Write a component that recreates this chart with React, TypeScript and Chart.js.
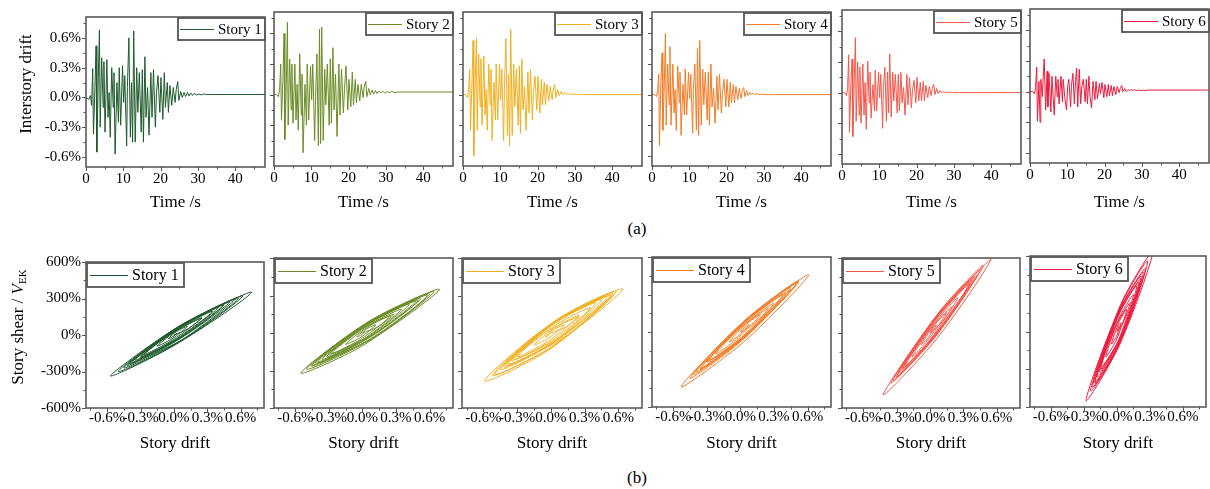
import React, { useEffect, useRef } from "react";
import { Chart, registerables } from "chart.js";

Chart.register(...registerables);

const FONT = "'Liberation Serif', 'Times New Roman', Times, serif";

// ---------- data ----------
const storyNames = ["Story 1", "Story 2", "Story 3", "Story 4", "Story 5", "Story 6"];
const storyColors = ["#1e5a2c", "#6b8c25", "#f0b020", "#f27c25", "#f4574b", "#ec1a3c"];

// time of drift reversal points (s)
const peakTimes = [0, 0.7, 1.2, 1.5, 1.8, 2.0, 2.4, 2.7, 2.9, 3.3,
  3.6, 3.8, 4.2, 4.6, 4.8, 5.1, 5.6, 5.9, 6.2, 6.5,
  6.9, 7.3, 7.5, 7.8, 8.3, 8.7, 8.9, 9.3, 9.8, 10.1,
  10.4, 10.9, 11.1, 11.5, 11.9, 12.2, 12.5, 12.8, 13.2, 13.6,
  13.9, 14.3, 14.8, 15.1, 15.4, 15.8, 16.1, 16.5, 16.9, 17.4,
  17.7, 18.1, 18.6, 18.9, 19.3, 19.8, 20.1, 20.6, 21.0, 21.3,
  21.8, 22.1, 22.5, 23.0, 23.4, 23.9, 24.2, 24.6, 24.9, 25.4,
  25.8, 26.3, 26.7, 27.2, 27.6, 28.1, 28.6, 29.1, 29.7, 30.3,
  30.9, 31.6, 32.4, 33.0, 48.0];

// interstory drift (%) at those times
const drift1 = [0, -0.02, 0.02, -0.08, 0.29, -0.37, 0.10, 0.52, -0.55, 0.20,
  0.68, -0.30, 0.40, -0.10, 0.36, -0.35, 0.38, -0.20, 0.05, -0.40,
  0.30, -0.10, 0.25, -0.57, 0.15, -0.25, 0.30, -0.28, 0.32, -0.05,
  0.22, -0.49, 0.10, 0.60, -0.40, 0.15, -0.45, 0.67, -0.45, 0.30,
  -0.15, 0.25, -0.35, 0.28, -0.45, 0.41, -0.20, 0.10, -0.38, 0.25,
  -0.20, 0.28, -0.30, 0.05, 0.22, -0.15, 0.20, -0.22, 0.25, -0.10,
  0.15, -0.15, 0.12, -0.08, 0.10, -0.05, 0.08, 0.16, -0.03, 0.06,
  0.00, 0.05, 0.01, 0.05, 0.015, 0.045, 0.02, 0.04, 0.025, 0.035,
  0.025, 0.035, 0.03, 0.03, 0.03];
const drift2 = [0, 0.00, -0.02, 0.05, 0.30, -0.25, 0.15, 0.60, -0.44, 0.10,
  0.71, -0.30, 0.35, -0.15, 0.30, -0.28, 0.30, -0.25, 0.10, -0.35,
  0.40, -0.20, 0.20, -0.57, 0.10, -0.30, 0.30, -0.25, 0.28, -0.05,
  0.30, -0.45, -0.10, 0.40, -0.50, 0.64, -0.48, 0.66, -0.45, 0.25,
  -0.10, 0.30, -0.30, 0.35, -0.28, 0.46, -0.15, 0.20, -0.41, 0.30,
  -0.20, 0.25, -0.18, 0.05, 0.28, -0.15, 0.15, -0.12, 0.22, -0.10,
  0.15, -0.08, 0.10, -0.06, 0.10, -0.03, 0.08, 0.13, -0.02, 0.06,
  0.00, 0.045, 0.005, 0.04, 0.01, 0.035, 0.015, 0.035, 0.015, 0.03,
  0.02, 0.03, 0.02, 0.025, 0.025];
const drift3 = [0, 0.00, -0.03, 0.05, 0.25, -0.35, 0.10, 0.53, -0.60, 0.15,
  0.55, -0.35, 0.40, -0.12, 0.35, -0.30, 0.38, -0.20, 0.05, -0.35,
  0.30, -0.10, 0.25, -0.45, 0.12, -0.25, 0.30, -0.25, 0.30, -0.05,
  0.25, -0.45, 0.05, 0.55, -0.40, 0.20, -0.50, 0.64, -0.40, 0.30,
  -0.12, 0.25, -0.30, 0.28, -0.38, 0.35, -0.15, 0.08, -0.35, 0.22,
  -0.18, 0.25, -0.25, 0.02, 0.18, -0.15, 0.18, -0.18, 0.15, -0.10,
  0.12, -0.10, 0.10, -0.06, 0.08, -0.05, 0.05, 0.10, -0.03, 0.05,
  -0.01, 0.03, 0.00, 0.02, 0.00, 0.01, 0.00, 0.01, 0.00, 0.005,
  0.00, 0.00, 0.00, 0.00, 0.00];
const drift4 = [0, 0.00, -0.02, 0.04, 0.20, -0.50, 0.15, 0.41, -0.35, 0.10,
  0.60, -0.30, 0.30, -0.10, 0.47, -0.30, 0.30, -0.18, 0.05, -0.35,
  0.28, -0.08, 0.22, -0.40, 0.10, -0.20, 0.25, -0.20, 0.22, -0.04,
  0.20, -0.38, 0.05, 0.30, -0.35, 0.45, -0.40, 0.53, -0.30, 0.25,
  -0.10, 0.22, -0.25, 0.22, -0.30, 0.30, -0.12, 0.06, -0.28, 0.18,
  -0.15, 0.20, -0.18, 0.02, 0.15, -0.12, 0.15, -0.12, 0.12, -0.08,
  0.10, -0.08, 0.08, -0.05, 0.06, -0.04, 0.04, 0.07, -0.02, 0.04,
  -0.01, 0.02, 0.00, 0.015, 0.00, 0.01, 0.00, 0.005, 0.00, 0.00,
  0.00, 0.00, 0.00, 0.00, 0.00];
const drift5 = [0, 0.00, -0.03, 0.05, 0.37, -0.39, 0.10, 0.33, -0.43, 0.15,
  0.54, -0.28, 0.30, -0.22, 0.25, -0.30, 0.28, -0.22, 0.10, -0.36,
  0.31, -0.10, 0.20, -0.25, 0.08, -0.18, 0.22, -0.18, 0.20, -0.05,
  0.18, -0.35, 0.05, 0.25, -0.28, 0.20, -0.20, 0.38, -0.24, 0.20,
  -0.08, 0.18, -0.20, 0.18, -0.18, 0.20, -0.10, 0.05, -0.22, 0.18,
  -0.12, 0.15, -0.15, 0.02, 0.12, -0.10, 0.15, -0.08, 0.10, -0.08,
  0.11, -0.08, 0.07, -0.05, 0.06, -0.03, 0.04, 0.08, -0.02, 0.04,
  -0.01, 0.02, 0.00, 0.01, 0.00, 0.005, 0.00, 0.005, 0.00, 0.00,
  0.00, 0.00, 0.00, 0.00, 0.00];
const drift6 = [0, 0.00, -0.02, 0.04, 0.24, -0.29, 0.10, -0.30, 0.12, -0.05,
  0.20, 0.32, -0.18, 0.20, -0.15, 0.18, -0.20, 0.15, -0.05, -0.23,
  0.15, -0.05, 0.12, -0.12, 0.15, -0.10, 0.12, -0.05, -0.18, 0.05,
  0.12, -0.15, 0.05, 0.18, -0.12, 0.10, 0.23, -0.15, 0.22, -0.12,
  0.05, 0.12, -0.10, 0.12, -0.12, 0.15, -0.05, -0.16, 0.10, -0.08,
  0.10, -0.07, 0.08, -0.02, 0.09, -0.06, 0.07, -0.05, 0.07, -0.04,
  0.06, -0.04, 0.05, -0.03, 0.05, -0.01, 0.03, 0.06, 0.00, 0.03,
  0.00, 0.02, 0.01, 0.02, 0.01, 0.02, 0.01, 0.015, 0.01, 0.015,
  0.01, 0.015, 0.015, 0.015, 0.015];
const driftSeries = [drift1, drift2, drift3, drift4, drift5, drift6];

// hysteresis: story drift (%) and story shear / V_EK (%)
const hysDrift1 = [0, 0.125, 0.25, -0.025, -0.30, 0.075, 0.45, 0.025, -0.40, 0.15, 0.70, 0.065, -0.57, -0.01, 0.55, 0.025, -0.50, 0.06, 0.62, 0.10, -0.42, 0.015, 0.45, 0.05, -0.35, 0.075, 0.50, 0.025, -0.45, 0.065, 0.58, 0.10, -0.38, 0.01, 0.40, 0.05, -0.30, 0.025, 0.35, 0.04, -0.27, -0.01, 0.25, 0.05, -0.15, -0.015, 0.12, 0.035, -0.05, -0.01, 0.03];
const hysShear1 = [0, 50, 140, 10, -180, -10, 250, 58, -235, -2, 352, 83, -336, -90, 295, 58, -300, -55, 320, 95, -250, -52, 245, 65, -205, -18, 270, 55, -270, -45, 300, 92, -225, -45, 225, 60, -185, -30, 195, 52, -160, -40, 140, 50, -90, -30, 70, 35, -30, -15, 15];
const hysDrift2 = [0, 0.14, 0.28, -0.01, -0.30, 0.10, 0.50, 0.04, -0.42, 0.135, 0.69, 0.07, -0.55, 0.015, 0.58, 0.04, -0.50, 0.07, 0.64, 0.095, -0.45, 0.015, 0.48, 0.06, -0.36, 0.08, 0.52, 0.03, -0.46, 0.07, 0.60, 0.10, -0.40, 0.01, 0.42, 0.05, -0.32, 0.015, 0.35, 0.035, -0.28, -0.015, 0.25, 0.05, -0.15, -0.015, 0.12, 0.035, -0.05, -0.012, 0.025];
const hysShear2 = [0, 50, 150, 30, -170, -10, 260, 75, -240, -20, 350, 100, -320, -95, 300, 80, -290, -55, 330, 107, -255, -60, 255, 77, -210, -28, 275, 70, -265, -48, 310, 105, -230, -55, 230, 70, -190, -45, 190, 52, -165, -50, 135, 50, -90, -35, 65, 32, -30, -17, 12];
const hysDrift3 = [0, 0.125, 0.25, -0.05, -0.35, 0.09, 0.53, -0.03, -0.59, -0.02, 0.55, 0.075, -0.40, 0.12, 0.64, 0.07, -0.50, 0.025, 0.55, 0.05, -0.45, 0.0, 0.45, 0.035, -0.38, 0.06, 0.50, -0.01, -0.52, 0.03, 0.58, 0.08, -0.42, -0.01, 0.40, 0.035, -0.33, 0.01, 0.35, 0.025, -0.30, -0.025, 0.25, 0.05, -0.15, -0.015, 0.12, 0.035, -0.05, -0.025, 0.0];
const hysShear3 = [0, 45, 130, 5, -220, -30, 300, 53, -384, -137, 310, 110, -260, -34, 352, 111, -330, -100, 320, 105, -290, -92, 265, 80, -245, -58, 290, 65, -340, -100, 330, 120, -270, -90, 240, 80, -210, -60, 200, 55, -190, -65, 140, 52, -95, -37, 65, 32, -30, -23, 0];
const hysDrift4 = [0, 0.125, 0.25, -0.025, -0.30, 0.075, 0.45, -0.04, -0.53, 0.04, 0.61, 0.08, -0.45, 0.025, 0.50, 0.05, -0.40, 0.06, 0.52, 0.085, -0.35, 0.025, 0.40, 0.05, -0.30, 0.075, 0.45, 0.015, -0.42, 0.05, 0.52, 0.08, -0.36, 0.01, 0.38, 0.05, -0.28, 0.01, 0.30, 0.04, -0.22, -0.02, 0.18, 0.04, -0.10, -0.01, 0.08, 0.04, 0.0];
const hysShear4 = [0, 70, 190, 15, -240, -5, 340, 20, -440, -72, 456, 123, -370, -60, 390, 100, -320, -25, 400, 117, -285, -42, 310, 85, -240, -3, 355, 72, -340, -35, 410, 122, -295, -52, 300, 88, -225, -42, 230, 65, -175, -48, 140, 52, -80, -25, 60, 38, 0];
const hysDrift5 = [0, 0.10, 0.20, -0.025, -0.25, 0.065, 0.38, -0.02, -0.42, 0.065, 0.55, 0.10, -0.35, 0.035, 0.42, 0.06, -0.30, 0.075, 0.45, 0.085, -0.28, 0.035, 0.35, 0.065, -0.22, 0.09, 0.40, 0.035, -0.33, 0.075, 0.48, 0.09, -0.30, 0.03, 0.36, 0.06, -0.24, 0.005, 0.25, 0.045, -0.16, -0.005, 0.15, 0.035, -0.08, -0.01, 0.06, 0.03, 0.0];
const hysShear5 = [0, 80, 210, 5, -290, 5, 420, 37, -496, -42, 592, 186, -400, -45, 460, 125, -350, 5, 500, 160, -320, -25, 390, 120, -260, 35, 450, 105, -380, 0, 540, 175, -350, -40, 400, 120, -280, -50, 280, 83, -190, -42, 165, 57, -95, -30, 65, 40, 0];
const hysDrift6 = [0, 0.06, 0.12, -0.015, -0.15, 0.035, 0.22, -0.03, -0.28, 0.025, 0.33, 0.045, -0.24, 0.0, 0.24, 0.02, -0.20, 0.03, 0.26, 0.04, -0.18, 0.01, 0.20, 0.03, -0.14, 0.04, 0.22, 0.0, -0.22, 0.03, 0.28, 0.04, -0.20, -0.01, 0.18, 0.01, -0.16, -0.005, 0.15, 0.025, -0.10, -0.005, 0.09, 0.02, -0.05, -0.005, 0.04, 0.02, 0.0];
const hysShear6 = [0, 75, 230, 35, -300, -40, 420, 65, -550, -105, 640, 235, -470, -140, 470, 165, -400, -80, 500, 190, -360, -95, 390, 155, -280, -30, 440, 130, -440, -80, 560, 215, -410, -145, 360, 130, -320, -110, 290, 115, -200, -67, 175, 77, -100, -40, 70, 47, 0];
const hysDriftSeries = [hysDrift1, hysDrift2, hysDrift3, hysDrift4, hysDrift5, hysDrift6];
const hysShearSeries = [hysShear1, hysShear2, hysShear3, hysShear4, hysShear5, hysShear6];

// ticks
const timeTicks = [0, 10, 20, 30, 40];
const timeTickLabels = ["0", "10", "20", "30", "40"];
const timeMinorTicks = [5, 15, 25, 35, 45];
const driftTicks = [-0.6, -0.3, 0, 0.3, 0.6];
const driftTickLabels = ["-0.6%", "-0.3%", "0.0%", "0.3%", "0.6%"];
const driftMinorTicks = [-0.45, -0.15, 0.15, 0.45, 0.75];
const hysDriftMinorTicks = [-0.75, -0.45, -0.15, 0.15, 0.45, 0.75];
const shearTicks = [-600, -300, 0, 300, 600];
const shearTickLabels = ["-600%", "-300%", "0%", "300%", "600%"];
const shearMinorTicks = [-450, -150, 150, 450];

// ---------- layout ----------
type Rect = { left: number; top: number; w: number; h: number };
const topRects: Rect[] = [
  { left: 86, top: 13, w: 179, h: 154 },
  { left: 274, top: 12, w: 179, h: 154 },
  { left: 463, top: 12, w: 179, h: 154 },
  { left: 652, top: 12, w: 179, h: 154 },
  { left: 842, top: 10, w: 179, h: 154 },
  { left: 1030, top: 9, w: 179, h: 154 },
];
const bottomRects: Rect[] = [
  { left: 86, top: 258, w: 178, h: 150 },
  { left: 274, top: 258, w: 179, h: 150 },
  { left: 462, top: 258, w: 180, h: 150 },
  { left: 652, top: 257, w: 179, h: 150 },
  { left: 842, top: 258, w: 178, h: 150 },
  { left: 1030, top: 256, w: 176, h: 151 },
];

type Kind = "time" | "hys";

function Panel({ kind, idx, rect }: { kind: Kind; idx: number; rect: Rect }) {
  const ref = useRef<HTMLCanvasElement | null>(null);
  const showY = idx === 0;
  const padL = showY ? 62 : 8;
  const padT = 10;
  const padR = 1;
  const padB = 26;
  const cw = padL + rect.w + padR;
  const ch = padT + rect.h + padB;

  useEffect(() => {
    if (!ref.current) return;
    const isTime = kind === "time";
    const color = storyColors[idx];
    const data = isTime
      ? peakTimes.map((t, i) => ({ x: t, y: driftSeries[idx][i] }))
      : hysDriftSeries[idx].map((d, i) => ({ x: d, y: hysShearSeries[idx][i] }));
    const xT = isTime ? timeTicks : driftTicks;
    const xL = isTime ? timeTickLabels : driftTickLabels;
    const xMinor = isTime ? timeMinorTicks : hysDriftMinorTicks;
    const yT = isTime ? driftTicks : shearTicks;
    const yL = isTime ? driftTickLabels : shearTickLabels;
    const yMinor = isTime ? driftMinorTicks : shearMinorTicks;

    const deco = {
      id: "deco" + kind + idx,
      afterDraw(chart: any) {
        const { ctx, chartArea: a, scales } = chart;
        ctx.save();
        // legend
        const lw = isTime ? 87 : 97;
        const lh = isTime ? 22 : 24;
        const bx = isTime ? a.right - lw : a.left + 1;
        const by = a.top + 1;
        ctx.fillStyle = "#fff";
        ctx.fillRect(bx, by, lw, lh);
        ctx.strokeStyle = "#555";
        ctx.lineWidth = 1.8;
        ctx.strokeRect(bx, by, lw, lh);
        const my = by + lh / 2;
        ctx.strokeStyle = color;
        ctx.lineWidth = 1;
        ctx.beginPath();
        ctx.moveTo(bx + (isTime ? 2 : 3), my + 0.5);
        ctx.lineTo(bx + (isTime ? 36 : 41), my + 0.5);
        ctx.stroke();
        ctx.fillStyle = "#000";
        ctx.font = `${isTime ? 15 : 16}px ${FONT}`;
        ctx.textBaseline = "middle";
        ctx.textAlign = "left";
        ctx.fillText(storyNames[idx], bx + (isTime ? 40 : 45), my + 1);
        // ticks
        ctx.strokeStyle = "#555";
        ctx.lineWidth = 1;
        const xs = scales.x, ys = scales.y;
        const tickX = (v: number, len: number) => {
          const px = Math.round(xs.getPixelForValue(v)) + 0.5;
          ctx.beginPath();
          ctx.moveTo(px, a.bottom);
          ctx.lineTo(px, a.bottom + len);
          ctx.stroke();
        };
        const tickY = (v: number, len: number) => {
          const py = Math.round(ys.getPixelForValue(v)) + 0.5;
          ctx.beginPath();
          ctx.moveTo(a.left, py);
          ctx.lineTo(a.left - len, py);
          ctx.stroke();
        };
        xT.forEach((v) => tickX(v, 4));
        xMinor.forEach((v) => tickX(v, 2.5));
        yT.forEach((v) => tickY(v, 4));
        yMinor.forEach((v) => tickY(v, 2.5));
        // frame
        ctx.strokeStyle = "#5a5a5a";
        ctx.lineWidth = 1.6;
        ctx.strokeRect(a.left, a.top, a.right - a.left, a.bottom - a.top);
        ctx.restore();
      },
    };

    const tickFont = { family: FONT, size: 15 };
    const chart = new Chart(ref.current, {
      type: "line",
      data: {
        datasets: [
          {
            data,
            borderColor: color,
            backgroundColor: color,
            borderWidth: 1,
            pointRadius: 0,
            fill: false,
            tension: isTime ? 0 : 0.3,
          },
        ],
      },
      options: {
        animation: false,
        responsive: false,
        maintainAspectRatio: false,
        events: [],
        layout: { padding: { top: padT, right: padR, left: 0, bottom: 0 } },
        plugins: {
          legend: { display: false },
          tooltip: { enabled: false },
          title: { display: false },
        },
        scales: {
          x: {
            type: "linear",
            min: isTime ? 0 : -0.79,
            max: isTime ? 48 : 0.81,
            grid: { display: false, drawTicks: false },
            border: { display: false },
            afterBuildTicks: (s: any) => {
              s.ticks = xT.map((v) => ({ value: v }));
            },
            afterFit: (s: any) => {
              s.height = padB;
            },
            ticks: {
              autoSkip: false,
              maxRotation: 0,
              minRotation: 0,
              padding: isTime ? 3 : 1,
              color: "#000",
              font: tickFont,
              callback: (_v: any, i: number) => xL[i],
            },
          },
          y: {
            type: "linear",
            min: isTime ? -0.7 : -600,
            max: isTime ? 0.81 : 600,
            grid: { display: false, drawTicks: false },
            border: { display: false },
            afterBuildTicks: (s: any) => {
              s.ticks = yT.map((v) => ({ value: v }));
            },
            afterFit: (s: any) => {
              s.width = padL;
            },
            ticks: {
              display: showY,
              padding: 5,
              color: "#000",
              font: tickFont,
              callback: (_v: any, i: number) => yL[i],
            },
          },
        },
      } as any,
      plugins: [deco],
    });
    return () => chart.destroy();
  }, [kind, idx]);

  return (
    <canvas
      ref={ref}
      width={cw}
      height={ch}
      style={{ position: "absolute", left: rect.left - padL, top: rect.top - padT, width: cw, height: ch }}
    />
  );
}

function Label({ x, y, size, rotate, children }: { x: number; y: number; size: number; rotate?: boolean; children: any }) {
  return (
    <div
      style={{
        position: "absolute",
        left: x,
        top: y,
        transform: `translate(-50%, -50%)${rotate ? " rotate(-90deg)" : ""}`,
        whiteSpace: "nowrap",
        fontFamily: FONT,
        fontSize: size,
        lineHeight: 1,
        color: "#000",
      }}
    >
      {children}
    </div>
  );
}

export default function App() {
  return (
    <div
      style={{
        position: "absolute",
        left: 0,
        top: 0,
        width: 1210,
        height: 489,
        overflow: "hidden",
        background: "#fff",
      }}
    >
      {topRects.map((r, i) => (
        <Panel key={"t" + i} kind="time" idx={i} rect={r} />
      ))}
      {bottomRects.map((r, i) => (
        <Panel key={"b" + i} kind="hys" idx={i} rect={r} />
      ))}
      {topRects.map((r, i) => (
        <Label key={"tt" + i} x={r.left + r.w / 2} y={201} size={17}>
          Time /s
        </Label>
      ))}
      {bottomRects.map((r, i) => (
        <Label key={"bt" + i} x={r.left + r.w / 2} y={442} size={17}>
          Story drift
        </Label>
      ))}
      <Label x={25} y={84} size={17} rotate>
        Interstory drift
      </Label>
      <Label x={18} y={327} size={17} rotate>
        Story shear / <i>V</i>
        <sub style={{ fontSize: 11, verticalAlign: "-3px" }}>EK</sub>
      </Label>
      <Label x={637} y={228} size={17}>
        (a)
      </Label>
      <Label x={637} y={477} size={17}>
        (b)
      </Label>
    </div>
  );
}
